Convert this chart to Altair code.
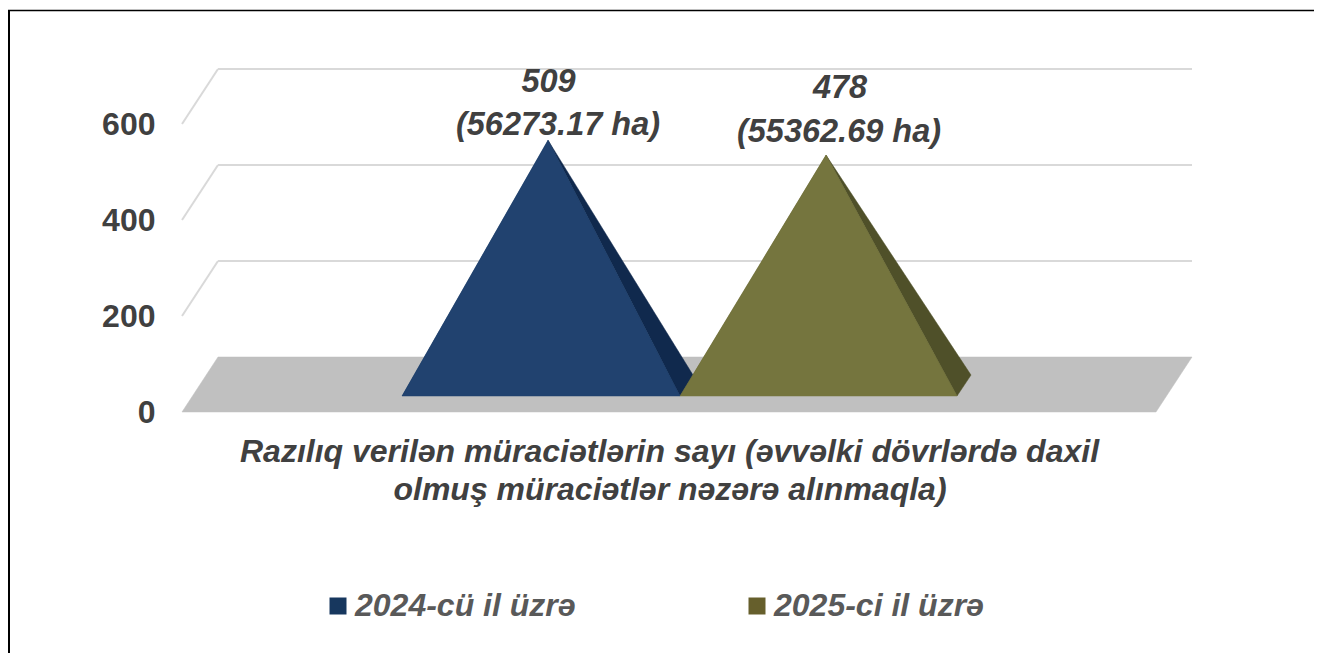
import altair as alt
import pandas as pd

FONT = "Liberation Sans"
TEXT = "#404040"
LEGEND_TEXT = "#595959"

# y axis values
y_ticks = [0, 200, 400, 600]
depth_y = 114.6
depth_x = 36
y_top = 841.67
y_bottom = -502.08

# series
series = ["2024-cü il üzrə", "2025-ci il üzrə"]
values = [509, 478]
legend_colors = ["#17375E", "#665F2C"]
face_colors = ["#21426F", "#75753E"]
side_colors = ["#10294D", "#4F5029"]

# pyramid footprints
base_left = [402, 680]
base_right = [680, 957]
apex_x = [548, 826]
tip_x = [693, 971]
base_y = 33.3
tip_y = 77

# floor and back wall
front_left, front_right = 182, 1156
grid_left, grid_right = 218, 1192
grid_front = [200, 400, 600]

# texts
label_text = ["509", "(56273.17 ha)", "478", "(55362.69 ha)"]
label_x = [548.5, 558, 840, 839]
label_y = [688, 597, 675, 583]
cat_text = ["Razılıq verilən müraciətlərin sayı (əvvəlki dövrlərdə daxil",
            "olmuş müraciətlər nəzərə alınmaqla)"]
cat_x = [669.5, 670]
cat_y = [-83.3, -162.5]

W, H = 1306, 645
xs = alt.Scale(domain=[8, 1314])
ys = alt.Scale(domain=[y_bottom, y_top], nice=False, zero=False)
X = alt.X("x:Q", scale=xs, axis=None)
Y = alt.Y("y:Q", scale=ys,
          axis=alt.Axis(values=y_ticks, title=None, grid=False, domain=False, ticks=False,
                        offset=-147, labelPadding=0, labelFont=FONT, labelFontSize=32,
                        labelFontWeight="bold", labelColor=TEXT, labelBound=False, labelFlush=False))


def polygon(points, color):
    df = pd.DataFrame(points, columns=["x", "y"]).assign(o=range(len(points)))
    return alt.Chart(df).mark_line(fill=color, stroke=color, strokeWidth=0.5, clip=False).encode(
        x=X, y=Y, order="o:Q")


floor = polygon([(front_left, 0), (front_right, 0), (grid_right, depth_y),
                 (grid_left, depth_y), (front_left, 0)], "#C0C0C0")

wall_df = pd.DataFrame({"x": [grid_left] * 3, "x2": [grid_right] * 3,
                        "y": [v + depth_y for v in grid_front]})
wall = alt.Chart(wall_df).mark_rule(color="#D9D9D9", strokeWidth=2).encode(
    x=X, x2="x2:Q", y=Y)

slants = []
for v in grid_front:
    slants.append({"g": v, "o": 0, "x": front_left, "y": v})
    slants.append({"g": v, "o": 1, "x": grid_left, "y": v + depth_y})
slant = alt.Chart(pd.DataFrame(slants)).mark_line(color="#D9D9D9", strokeWidth=2).encode(
    x=X, y=Y, detail="g:N", order="o:Q")

layers = [wall, slant, floor]
tri_rows = []
for i, s in enumerate(series):
    ay = values[i] + depth_y / 2
    tri_rows += [{"s": s, "x": base_left[i], "y": base_y, "y2": base_y},
                 {"s": s, "x": apex_x[i], "y": ay, "y2": base_y},
                 {"s": s, "x": base_right[i], "y": base_y, "y2": base_y}]
tri_df = pd.DataFrame(tri_rows)

# legend-bearing layer
layers.append(
    alt.Chart(tri_df).mark_area(clip=False).encode(
        x=X, y=Y, y2="y2:Q",
        color=alt.Color("s:N", scale=alt.Scale(domain=series, range=legend_colors),
                        legend=alt.Legend(title=None, orient="none", legendX=314, legendY=582,
                                          columns=2, columnPadding=165, symbolType="square",
                                          symbolSize=289, symbolStrokeWidth=0, labelOffset=1,
                                          labelFont=FONT, labelFontSize=32, labelFontStyle="italic",
                                          labelFontWeight="bold", labelColor=LEGEND_TEXT,
                                          labelLimit=400, padding=0, rowPadding=0, symbolOpacity=1)))
)
for i, s in enumerate(series):
    ay = values[i] + depth_y / 2
    layers.append(polygon([(apex_x[i], ay), (base_right[i], base_y), (tip_x[i], tip_y),
                           (apex_x[i], ay)], side_colors[i]))
    layers.append(polygon([(base_left[i], base_y), (apex_x[i], ay), (base_right[i], base_y),
                           (base_left[i], base_y)], face_colors[i]))

labels = alt.Chart(pd.DataFrame({"x": label_x, "y": label_y, "t": label_text})).mark_text(
    font=FONT, fontSize=32.5, fontWeight="bold", fontStyle="italic", color=TEXT, baseline="middle"
).encode(x=X, y=Y, text="t:N")
cats = alt.Chart(pd.DataFrame({"x": cat_x, "y": cat_y, "t": cat_text})).mark_text(
    font=FONT, fontSize=32, fontWeight="bold", fontStyle="italic", color=TEXT, baseline="middle"
).encode(x=X, y=Y, text="t:N")
layers += [labels, cats]

# frame lines along the top and left of the picture
top_line = alt.Chart(pd.DataFrame({"a": [0]})).mark_rule(color="black", strokeWidth=1.5).encode(
    x=alt.value(0), x2=alt.value(W), y=alt.value(2.5))
left_line = alt.Chart(pd.DataFrame({"a": [0]})).mark_rule(color="black", strokeWidth=2).encode(
    x=alt.value(1), y=alt.value(2), y2=alt.value(H))
layers += [top_line, left_line]

chart = alt.layer(*layers).properties(
    width=W, height=H, padding=0, autosize=alt.AutoSizeParams(type="none")
).configure_view(stroke=None)

chart.save("out.html", embed_options={"renderer": "svg", "actions": False})
